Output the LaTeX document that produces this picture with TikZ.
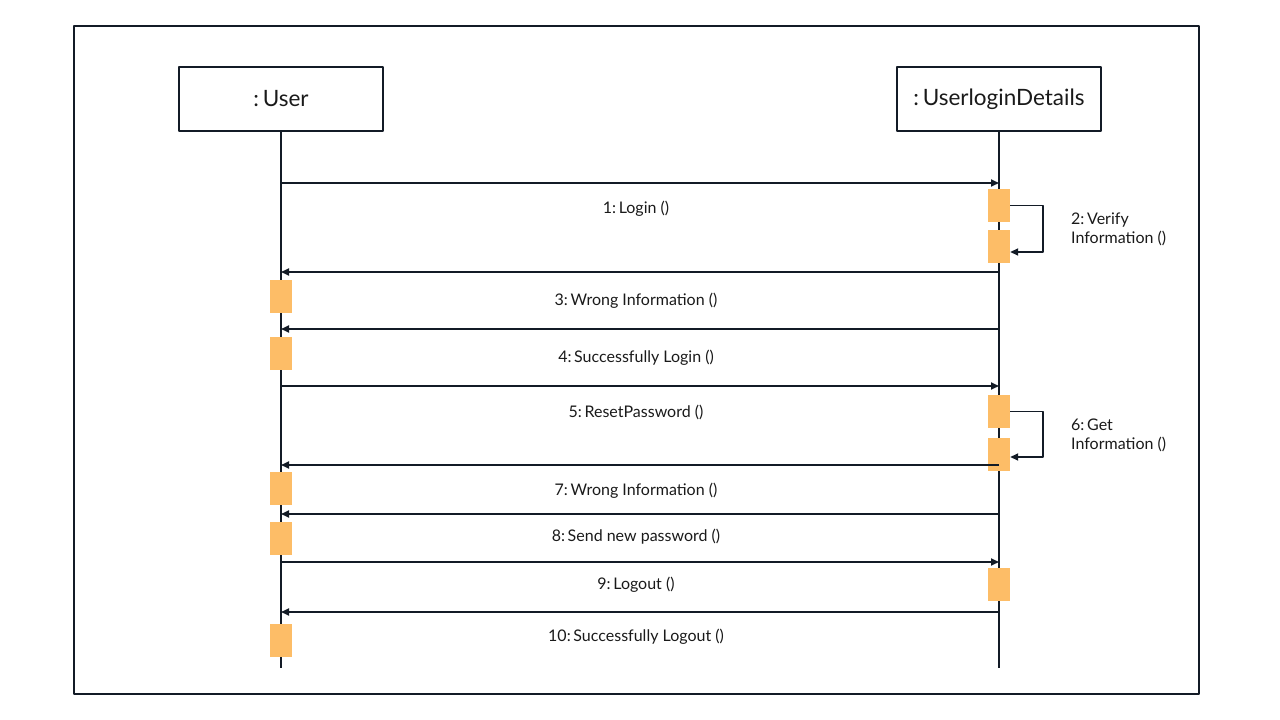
\documentclass[tikz,border=0pt]{standalone}
\usepackage{fontspec}
\setmainfont{Lato}
\usetikzlibrary{arrows.meta,positioning}
\definecolor{actcol}{HTML}{FDBD67}
\definecolor{ink}{HTML}{131B26}
\definecolor{txt}{HTML}{1A1A1A}
\tikzset{
  obj/.style={draw=ink, line width=1.5pt, minimum width=204pt, minimum height=64pt, inner sep=0pt, text=txt, font=\fontsize{22.5}{25}\selectfont},
  act/.style={fill=actcol, minimum width=22pt, minimum height=33pt, inner sep=0pt},
  msg/.style={text=txt, font=\fontsize{16}{19}\selectfont, inner sep=0pt},
  call/.style={draw=ink, line width=1.7pt, -{Triangle[length=8pt,width=7pt]}},
  life/.style={draw=ink, line width=1.7pt}
}
\begin{document}
\begin{tikzpicture}[x=1pt, y=-1pt, line join=round]
	\useasboundingbox (0,0) rectangle (1280,720);
	\draw[ink, line width=1.5pt] (74,26) rectangle (1199,694);
	% objects and lifelines
	\node[obj] (user) at (281,99) {:\,User};
	\node[obj] (det) at (999,99) {:\,UserloginDetails};
	\coordinate (userend) at (281,668);
	\coordinate (detend) at (999,668);
	\draw[life] (user.south) -- (userend);
	\draw[life] (det.south) -- (detend);
	% activations
	\node[act] (a1) at (999,205.5) {};
	\node[act] (a2) at (999,246.5) {};
	\node[act] (a3) at (281,296.5) {};
	\node[act] (a4) at (281,353) {};
	\node[act] (a5) at (999,411.5) {};
	\node[act] (a6) at (999,454.5) {};
	\node[act] (a7) at (281,488.5) {};
	\node[act] (a8) at (281,538) {};
	\node[act] (a9) at (999,584.5) {};
	\node[act] (a10) at (281,640.5) {};
	% messages
	\draw[call] (user |- 0,183) -- (det |- 0,183);
	\draw[call] (a1.east) -- ++(33,0) |- ([yshift=-5.5pt]a2.east);
	\draw[call] (det |- 0,272) -- (user |- 0,272);
	\draw[call] (det |- 0,329) -- (user |- 0,329);
	\draw[call] (user |- 0,386) -- (det |- 0,386);
	\draw[call] (a5.east) -- ++(33,0) |- ([yshift=-2.5pt]a6.east);
	\draw[call] (det |- 0,465) -- (user |- 0,465);
	\draw[call] (det |- 0,514) -- (user |- 0,514);
	\draw[call] (user |- 0,562) -- (det |- 0,562);
	\draw[call] (det |- 0,612) -- (user |- 0,612);
	% labels
	\node[msg] (l1) at (636,209) {1:\,Login ()};
	\node[msg, align=left, anchor=west] (l2) at (1071,229) {2:\,Verify\\Information ()};
	\node[msg] (l3) at (636,301) {3:\,Wrong Information ()};
	\node[msg] (l4) at (636,358) {4:\,Successfully Login ()};
	\node[msg] (l5) at (636,412) {5:\,ResetPassword ()};
	\node[msg, align=left, anchor=west] (l6) at (1071,435) {6:\,Get\\Information ()};
	\node[msg] (l7) at (636,491) {7:\,Wrong Information ()};
	\node[msg] (l8) at (636,537) {8:\,Send new password ()};
	\node[msg] (l9) at (636,585) {9:\,Logout ()};
	\node[msg] (l10) at (636,637) {10:\,Successfully Logout ()};
\end{tikzpicture}
\end{document}
